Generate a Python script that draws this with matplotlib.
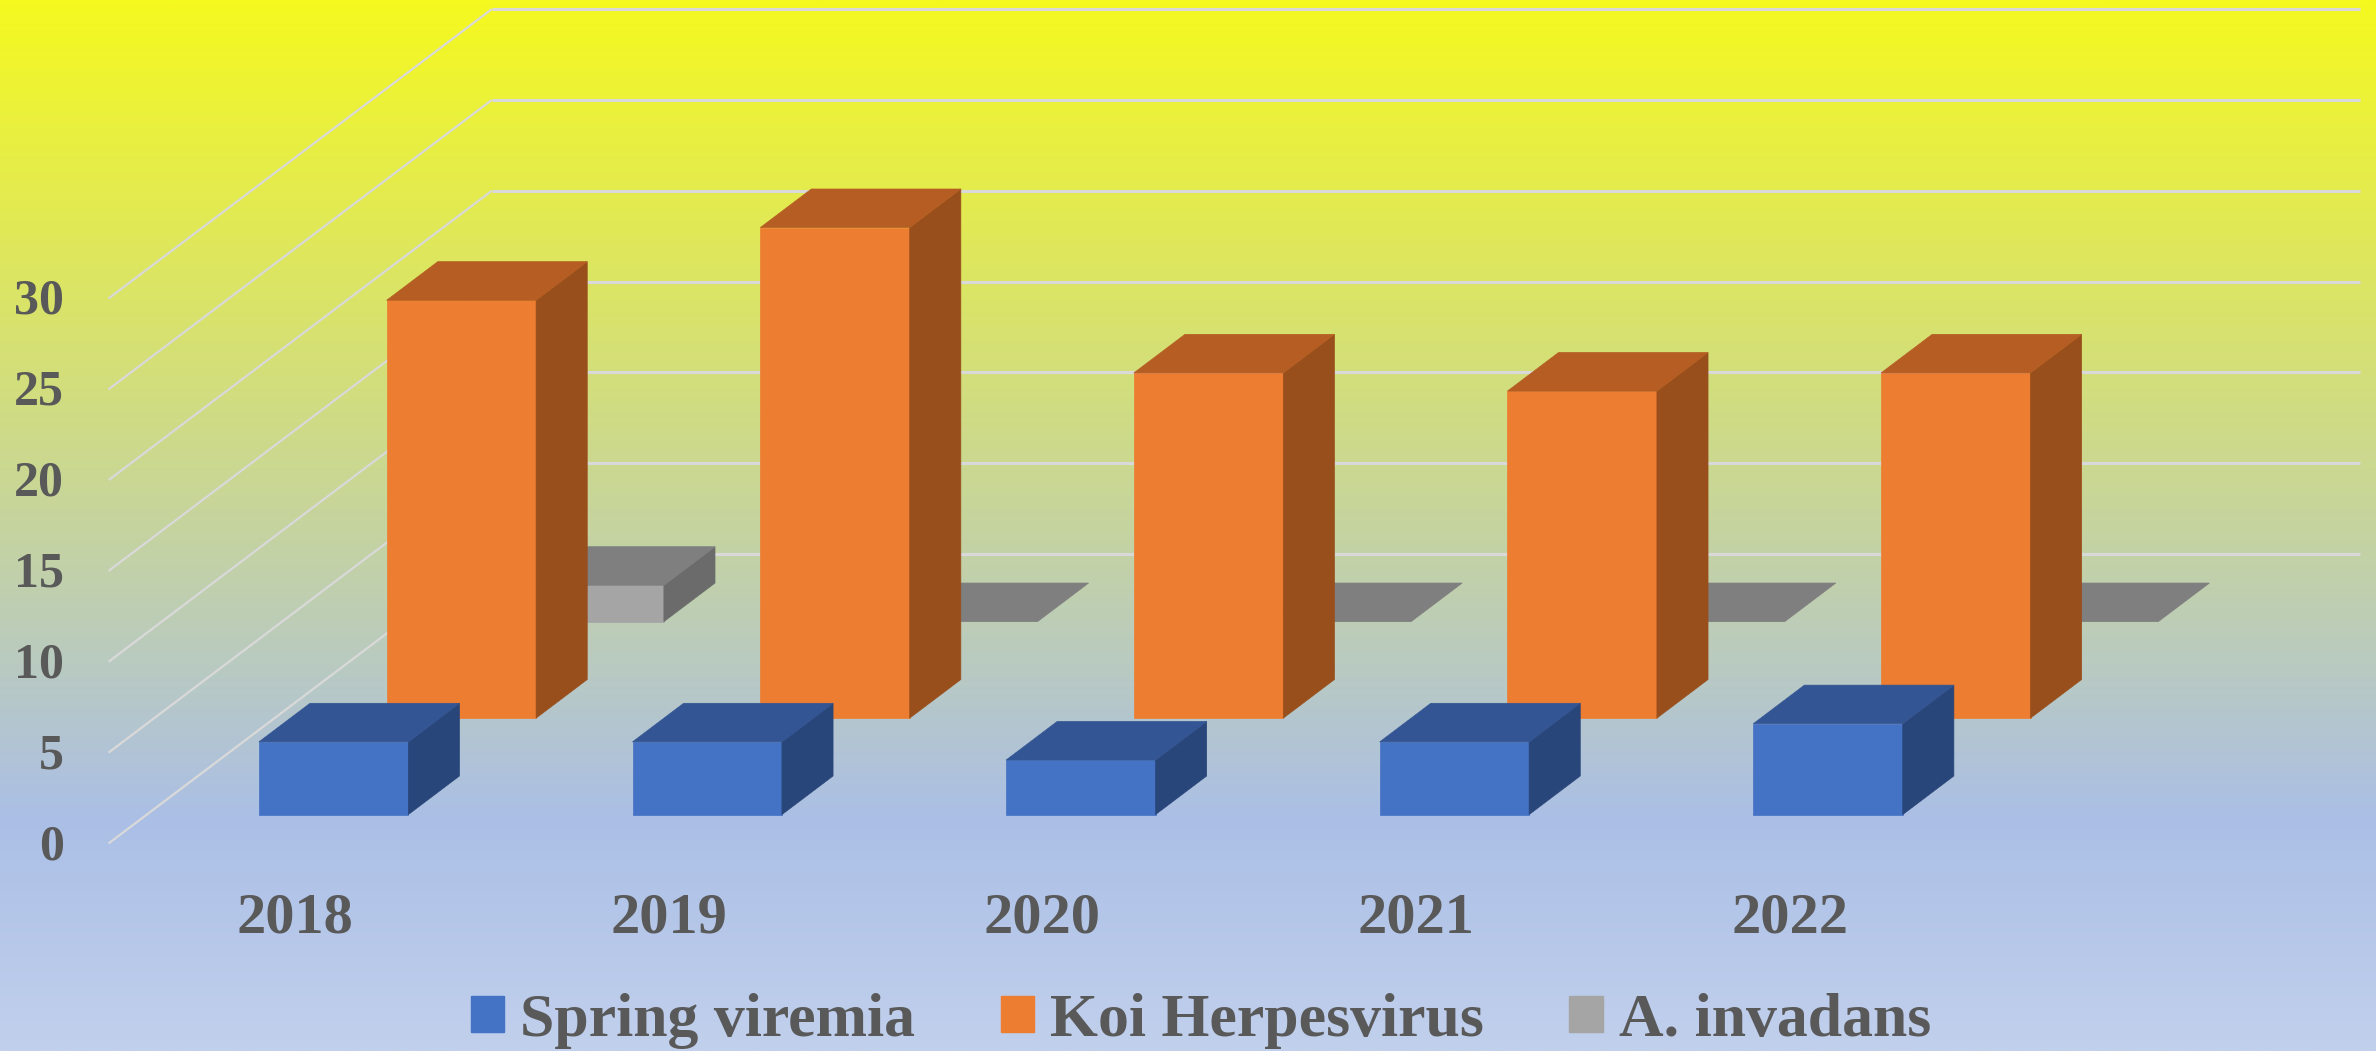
import numpy as np
import matplotlib
matplotlib.use('Agg')
from matplotlib import pyplot as plt
from matplotlib.colors import LinearSegmentedColormap
from matplotlib.patches import Polygon, Patch
from matplotlib.transforms import ScaledTranslation

years = ['2018', '2019', '2020', '2021', '2022']
spring_viremia = [4, 4, 3, 4, 5]
koi_herpesvirus = [23, 27, 19, 18, 19]
a_invadans = [2, 0, 0, 0, 0]
y_ticks = [0, 5, 10, 15, 20, 25, 30]

# oblique projection, one depth unit is one series row
depth_x = 0.342
depth_y = 5.31
bar_w = 0.4
bar_d = 0.4

plt.rcParams['font.family'] = ['Liberation Serif', 'DejaVu Serif']
plt.rcParams['font.weight'] = 'bold'
text_color = '#595959'
grid_color = '#D9D9D9'

fig = plt.figure(figsize=(23.76, 10.51), dpi=100)

# background gradient
bg = fig.add_axes([0, 0, 1, 1], zorder=-1)
cmap = LinearSegmentedColormap.from_list(
    'bg', [(0, '#F5F91F'), (0.78, '#ABBFE6'), (1, '#C1D0EC')])
bg.imshow(np.linspace(0, 1, 512).reshape(-1, 1), aspect='auto', cmap=cmap)
bg.axis('off')

ax = fig.add_axes([108.5 / 2376, 207.5 / 1051, 1868 / 2376, 545 / 1051])
ax.patch.set_visible(False)
ax.set_xlim(0, 5)
ax.set_ylim(0, 30)
for s in ax.spines.values():
    s.set_visible(False)


def proj(x, v, d):
    return x + d * depth_x, v + d * depth_y


# walls
for v in y_ticks:
    ax.plot(*zip(proj(0, v, 0), proj(0, v, 3)), color=grid_color, lw=1.6,
            clip_on=False, zorder=1, solid_capstyle='butt')
    ax.plot(*zip(proj(0, v, 3), proj(5, v, 3)), color=grid_color, lw=2.2,
            clip_on=False, zorder=1, solid_capstyle='butt')


def bar3d(i, row, value, front, top, side, z):
    x0 = i + 0.5 - bar_w / 2
    x1 = x0 + bar_w
    d0 = row + 0.5 - bar_d / 2
    d1 = d0 + bar_d
    faces = []
    if value > 0:
        faces.append(([proj(x0, 0, d0), proj(x1, 0, d0), proj(x1, value, d0), proj(x0, value, d0)], front))
        faces.append(([proj(x1, 0, d0), proj(x1, 0, d1), proj(x1, value, d1), proj(x1, value, d0)], side))
    faces.append(([proj(x0, value, d0), proj(x1, value, d0), proj(x1, value, d1), proj(x0, value, d1)], top))
    for pts, c in faces:
        ax.add_patch(Polygon(pts, closed=True, facecolor=c, edgecolor=c, lw=0.5,
                             clip_on=False, zorder=z))


# back row first so the nearer bars cover it
for i, v in enumerate(a_invadans):
    bar3d(i, 2, v, '#A5A5A5', '#7F7F7F', '#6B6B6B', 2)
for i, v in enumerate(koi_herpesvirus):
    bar3d(i, 1, v, '#ED7D31', '#B55D22', '#984F1C', 3)
for i, v in enumerate(spring_viremia):
    bar3d(i, 0, v, '#4472C4', '#335593', '#29467A', 4)

ax.set_xticks(np.arange(len(years)) + 0.5)
ax.set_xticklabels(years, fontsize=42, color=text_color, fontweight='bold')
ax.set_yticks(y_ticks)
ax.set_yticklabels(y_ticks, fontsize=36, color=text_color, fontweight='bold')
ax.tick_params(axis='x', length=0, pad=35)
ax.tick_params(axis='y', length=0, pad=32)
for lab in ax.get_yticklabels():
    lab.set_transform(lab.get_transform() + ScaledTranslation(0, 2 / 100, fig.dpi_scale_trans))

handles = [Patch(color='#4472C4', label='Spring viremia'),
           Patch(color='#ED7D31', label='Koi Herpesvirus'),
           Patch(color='#A5A5A5', label='A. invadans')]
fig.legend(handles=handles, ncol=3, frameon=False, loc='lower left',
           bbox_to_anchor=(471 / 2376, 0.002), borderaxespad=0, borderpad=0,
           prop={'size': 44.5, 'weight': 'bold'}, labelcolor=text_color,
           handlelength=0.54, handleheight=0.5, handletextpad=0.26,
           columnspacing=1.38)

plt.savefig('out.png', dpi=100)
